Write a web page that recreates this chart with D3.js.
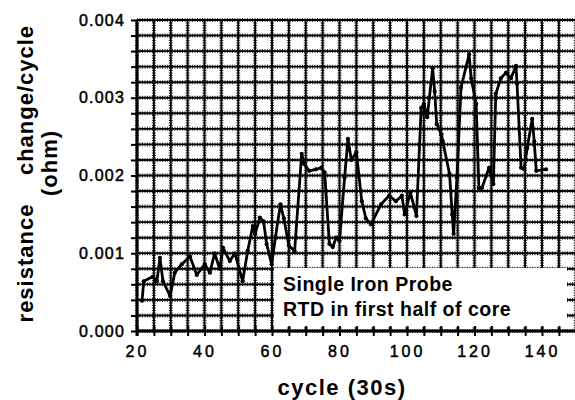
<!DOCTYPE html>
<html>
<head>
<meta charset="utf-8">
<script src="https://cdn.jsdelivr.net/npm/d3@7"></script>
<style>
body { margin: 0; background: #fff; }
svg { display: block; font-family: "Liberation Sans", Arial, sans-serif; }
</style>
</head>
<body>
<script>
// values (ohm per cycle)
var cycles = [21.5, 22, 24.7, 25.9, 26.8, 27.7, 29.8, 31.2, 33.3, 35.7, 37.7, 40.1, 41.6, 43, 44.5, 45.5, 47.5, 49,
  51.3, 52.8, 54.3, 55, 56.4, 57.5, 58.4, 59.9, 61, 62.5, 63.5, 65, 66.7, 68.8, 69.5, 71, 73, 74.6, 75.6,
  77, 78, 79, 80, 81.5, 82.5, 83.5, 85, 86.6, 87.8, 89.3, 92.3, 94.7, 96.7, 98.5, 99.3, 101, 102.8,
  104.2, 105, 106, 107.6, 108.2, 108.8, 110.2, 110.6, 112.6, 113.4, 113.8, 114.8, 116, 118.4, 119, 120.5,
  121.3, 122.2, 124.3, 125.6, 126.3, 127.8, 129.3, 130.8, 132.3, 132.6, 133.8, 134.7, 135.6, 137.1, 137.7, 138.3, 141.2];
var values = [0.00039, 0.00064, 0.00070, 0.00064, 0.00094, 0.00064, 0.00045, 0.00075, 0.00086, 0.00096, 0.00072, 0.00086, 0.00075, 0.00100, 0.00080, 0.00107, 0.00090, 0.00100,
  0.00064, 0.00103, 0.00135, 0.00125, 0.00146, 0.00141, 0.00112, 0.00086, 0.00120, 0.00163, 0.00145, 0.00110, 0.00103, 0.00228, 0.00215, 0.00206, 0.00208, 0.00210, 0.00204,
  0.00112, 0.00108, 0.00120, 0.00116, 0.00197, 0.00247, 0.00220, 0.00230, 0.00167, 0.00145, 0.00137, 0.00163, 0.00174, 0.00167, 0.00174, 0.00150, 0.00178, 0.00148,
  0.00287, 0.00292, 0.00275, 0.00338, 0.00308, 0.00266, 0.00253, 0.00244, 0.00202, 0.00150, 0.00125, 0.00197, 0.00313, 0.00356, 0.00325, 0.00292,
  0.00184, 0.00184, 0.00210, 0.00189, 0.00305, 0.00325, 0.00332, 0.00325, 0.00341, 0.00318, 0.00210, 0.00208, 0.00235, 0.00273, 0.00244, 0.00206, 0.00208];
var xTickValues = [20, 40, 60, 80, 100, 120, 140];
var yTickValues = [0, 0.001, 0.002, 0.003, 0.004];
var legendLines = ["Single Iron Probe", "RTD in first half of core"];
var xTitle = "cycle (30s)";
var yTitleParts = ["resistance", "change/cycle", "(ohm)"];

var width = 575, height = 400;
var data = cycles.map(function(c, i) { return {cycle: c, value: values[i]}; });

var svg = d3.select("body").append("svg")
  .attr("width", width)
  .attr("height", height);

var xScale = d3.scaleLinear().domain([20, 150]).range([137, 137 + 130 * 3.375]);
var yScale = d3.scaleLinear().domain([0, 0.004]).range([331, 20]);

var vGrid = d3.range(20, 151, 5);
var hGrid = d3.range(0, 21).map(function(i) { return i * 0.0002; });

// grid, drawn twice so it looks like the fuzzy scanned lines
var grid = svg.append("g");
function gridLines(cls, w, dash, op) {
  grid.selectAll("line.v" + cls).data(vGrid).enter().append("line")
    .attr("x1", d => xScale(d)).attr("x2", d => xScale(d))
    .attr("y1", yScale(0.004)).attr("y2", yScale(0))
    .attr("stroke", "#000").attr("stroke-width", w)
    .attr("stroke-dasharray", dash).attr("opacity", op);
  grid.selectAll("line.h" + cls).data(hGrid).enter().append("line")
    .attr("x1", xScale(20)).attr("x2", width)
    .attr("y1", d => yScale(d)).attr("y2", d => yScale(d))
    .attr("stroke", "#000").attr("stroke-width", w)
    .attr("stroke-dasharray", dash).attr("opacity", op);
}
gridLines("a", 4, "1 1.5", 0.75);
gridLines("b", 1.9, null, 1);

// data line
var path = d3.line()
  .x(d => xScale(d.cycle))
  .y(d => yScale(d.value));

svg.append("path")
  .attr("fill", "none")
  .attr("stroke", "#000")
  .attr("stroke-width", 2.8)
  .attr("stroke-linejoin", "round")
  .attr("d", path(data));

svg.append("g").selectAll("circle").data(data).enter().append("circle")
  .attr("cx", d => xScale(d.cycle))
  .attr("cy", d => yScale(d.value))
  .attr("r", 2.1)
  .attr("fill", "#000");

// legend box over lower right of plot
svg.append("rect")
  .attr("x", xScale(60) + 2).attr("y", 268)
  .attr("width", 567 - xScale(60) - 2).attr("height", 59)
  .attr("fill", "#fff");

svg.append("g").selectAll("text").data(legendLines).enter().append("text")
  .attr("x", 283)
  .attr("y", (d, i) => 291 + i * 25)
  .attr("font-size", 19.5)
  .attr("font-weight", "bold")
  .attr("letter-spacing", 0.5)
  .text(d => d);

// axes
var xAxis = d3.axisBottom(xScale)
  .tickValues(vGrid.filter(d => d < 150))
  .tickSize(5)
  .tickFormat(d => xTickValues.indexOf(d) >= 0 ? d : "");
var gx = svg.append("g").attr("transform", "translate(0," + yScale(0) + ")").call(xAxis);
gx.select(".domain").attr("stroke-width", 2.8).attr("d", "M" + xScale(20) + ",0H" + width);
gx.selectAll(".tick line").attr("y1", -5).attr("y2", 5).attr("stroke-width", 2);
gx.selectAll(".tick text")
  .attr("y", 15)
  .attr("font-size", 16)
  .attr("letter-spacing", 3)
  .attr("font-family", "Liberation Sans, Arial, sans-serif")
  .attr("fill", "#000")
  .attr("stroke", "#000")
  .attr("stroke-width", 0.5);

var yAxis = d3.axisLeft(yScale)
  .tickValues(hGrid)
  .tickSize(6)
  .tickFormat(d => yTickValues.some(v => Math.abs(v - d) < 1e-9) ? d3.format(".3f")(d) : "");
var gy = svg.append("g").attr("transform", "translate(" + xScale(20) + ",0)").call(yAxis);
gy.select(".domain").attr("stroke-width", 3).attr("d", "M0," + yScale(0.004) + "V" + (yScale(0) + 5));
gy.selectAll(".tick line").attr("stroke-width", 2);
gy.selectAll(".tick text")
  .attr("x", -12)
  .attr("font-size", 16)
  .attr("letter-spacing", 1.2)
  .attr("font-family", "Liberation Sans, Arial, sans-serif")
  .attr("fill", "#000")
  .attr("stroke", "#000")
  .attr("stroke-width", 0.5);

// titles
svg.append("text")
  .attr("x", 342).attr("y", 395)
  .attr("text-anchor", "middle")
  .attr("font-size", 22)
  .attr("font-weight", "bold")
  .attr("letter-spacing", 1.5)
  .text(xTitle);

var yPos = [[33, 263], [33, 100], [57, 163]];
svg.append("g").selectAll("text").data(yTitleParts).enter().append("text")
  .attr("transform", (d, i) => "translate(" + yPos[i][0] + "," + yPos[i][1] + ") rotate(-90)")
  .attr("text-anchor", "middle")
  .attr("font-size", 22)
  .attr("font-weight", "bold")
  .attr("letter-spacing", 1)
  .text(d => d);
</script>
</body>
</html>
